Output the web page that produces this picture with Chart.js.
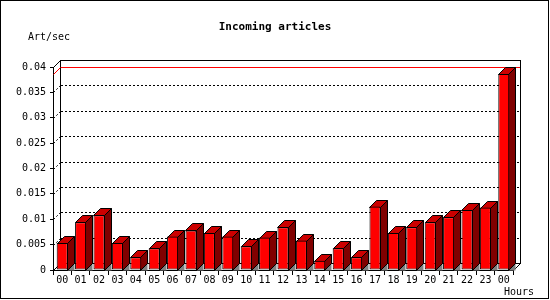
<!DOCTYPE html>
<html>
<head>
<meta charset="utf-8">
<script src="https://cdn.jsdelivr.net/npm/chart.js@4"></script>
<style>
html,body{margin:0;padding:0;background:#fff;}
canvas{display:block;}
</style>
</head>
<body>
<canvas id="c" width="550" height="300"></canvas>
<script>
const hours = ["00","01","02","03","04","05","06","07","08","09","10","11","12","13","14","15","16","17","18","19","20","21","22","23","00"];
const rates = [0.0053,0.0094,0.0108,0.0053,0.0025,0.0043,0.0066,0.0078,0.0073,0.0066,0.0047,0.0064,0.0084,0.0058,0.0018,0.0043,0.0025,0.0125,0.0073,0.0084,0.0094,0.0104,0.0118,0.0123,0.0386];
const yTickLabels = ["0","0.005","0.01","0.015","0.02","0.025","0.03","0.035","0.04"];
const titleText = "Incoming articles";
const yAxisTitle = "Art/sec";
const xAxisTitle = "Hours";

const DEPTH = 7;
const MONO = "'DejaVu Sans Mono', 'Liberation Mono', monospace";

const threeD = {
  id: 'threeD',
  beforeDraw(chart) {
    const ctx = chart.ctx;
    ctx.save();
    ctx.fillStyle = '#fff';
    ctx.fillRect(0, 0, chart.width, chart.height);
    ctx.restore();
  },
  beforeDatasetsDraw(chart) {
    const ctx = chart.ctx;
    const {left, right, top, bottom} = chart.chartArea;
    const ys = chart.scales.y;
    const D = DEPTH;
    const L = Math.round(left), R = Math.round(right), T = Math.round(top), B = Math.round(bottom);
    ctx.save();
    // back wall
    ctx.fillStyle = '#fff';
    ctx.fillRect(L + D, T - D, R - L, B - T);
    ctx.strokeStyle = '#000';
    ctx.lineWidth = 1;
    ctx.strokeRect(L + D + 0.5, T - D + 0.5, R - L, B - T);
    // grid lines on back wall
    ctx.setLineDash([2, 2]);
    ys.ticks.forEach((t) => {
      if (t.value <= ys.min || t.value >= ys.max) return;
      const y = Math.round(ys.getPixelForValue(t.value)) - D + 0.5;
      ctx.beginPath();
      ctx.moveTo(L + D + 1, y);
      ctx.lineTo(R + D, y);
      ctx.moveTo(L + 0.5, y + D);
      ctx.lineTo(L + D + 0.5, y);
      ctx.stroke();
    });
    ctx.setLineDash([]);
    // 3D box edges
    ctx.beginPath();
    ctx.moveTo(L + 0.5, T + 0.5); ctx.lineTo(L + D + 0.5, T - D + 0.5);
    ctx.moveTo(L + 0.5, B + 0.5); ctx.lineTo(L + D + 0.5, B - D + 0.5);
    ctx.moveTo(R + 0.5, B + 0.5); ctx.lineTo(R + D + 0.5, B - D + 0.5);
    ctx.stroke();
    // max line
    const vmax = Math.max(...rates);
    const ym = Math.round(ys.getPixelForValue(vmax)) - D + 0.5;
    ctx.strokeStyle = '#ff0000';
    ctx.beginPath();
    ctx.moveTo(L + D + 1, ym); ctx.lineTo(R + D, ym);
    ctx.moveTo(L + 0.5, ym + D); ctx.lineTo(L + D + 0.5, ym);
    ctx.stroke();
    // bar side & top faces
    const meta = chart.getDatasetMeta(0);
    meta.data.forEach((bar) => {
      const p = bar.getProps(['x', 'y', 'base', 'width'], true);
      const x1 = Math.round(p.x - p.width / 2) + 0.5;
      const x2 = Math.round(p.x + p.width / 2) - 0.5;
      const yt = Math.round(p.y) + 0.5;
      const yb = Math.round(p.base) + 0.5;
      // shadow
      ctx.fillStyle = '#808080';
      ctx.beginPath();
      ctx.moveTo(x2, yb); ctx.lineTo(x2 + D, yb - D); ctx.lineTo(x2 + D, yb); ctx.closePath();
      ctx.fill();
      ctx.strokeStyle = '#000';
      // side
      ctx.fillStyle = '#800000';
      ctx.beginPath();
      ctx.moveTo(x2, yb); ctx.lineTo(x2, yt); ctx.lineTo(x2 + D, yt - D); ctx.lineTo(x2 + D, yb - D); ctx.closePath();
      ctx.fill(); ctx.stroke();
      // top
      ctx.fillStyle = '#cc0000';
      ctx.beginPath();
      ctx.moveTo(x1, yt); ctx.lineTo(x2, yt); ctx.lineTo(x2 + D, yt - D); ctx.lineTo(x1 + D, yt - D); ctx.closePath();
      ctx.fill(); ctx.stroke();
    });
    ctx.restore();
  },
  afterDraw(chart) {
    const ctx = chart.ctx;
    ctx.save();
    ctx.fillStyle = '#000';
    ctx.textBaseline = 'middle';
    ctx.textAlign = 'center';
    ctx.font = 'bold 11px ' + MONO;
    ctx.fillText(titleText, 275, 27);
    ctx.textAlign = 'left';
    ctx.font = '10px ' + MONO;
    ctx.fillText(yAxisTitle, 28, 37);
    ctx.fillText(xAxisTitle, 504, 292);
    ctx.strokeStyle = '#000';
    ctx.lineWidth = 1;
    ctx.strokeRect(0.5, 0.5, 548, 298);
    ctx.restore();
  }
};

new Chart(document.getElementById('c'), {
  type: 'bar',
  data: {
    labels: hours,
    datasets: [{
      data: rates,
      backgroundColor: '#ff0000',
      borderColor: '#000',
      borderWidth: 1,
      borderSkipped: false,
      barPercentage: 0.6,
      categoryPercentage: 1.0
    }]
  },
  options: {
    responsive: false,
    animation: false,
    devicePixelRatio: 1,
    layout: { padding: { top: 67, right: 37, left: 0, bottom: 0 } },
    plugins: { legend: { display: false }, tooltip: { enabled: false }, title: { display: false } },
    scales: {
      x: {
        type: 'category',
        offset: true,
        grid: { display: true, offset: true, drawOnChartArea: false, drawTicks: true, tickLength: 5, color: '#000', tickColor: '#000' },
        border: { display: true, color: '#000', width: 1 },
        ticks: { color: '#000', font: { family: MONO, size: 10, lineHeight: 1 }, padding: 0, maxRotation: 0, autoSkip: false },
        afterFit(s) { s.height = 30; }
      },
      y: {
        min: 0,
        max: 0.04,
        grid: { display: true, drawOnChartArea: false, drawTicks: true, tickLength: 3, color: '#000', tickColor: '#000' },
        border: { display: true, color: '#000', width: 1 },
        ticks: { stepSize: 0.005, color: '#000', font: { family: MONO, size: 10 }, padding: 4,
          callback: (v, i) => yTickLabels[i] },
        afterFit(s) { s.width = 53; }
      }
    }
  },
  plugins: [threeD]
});
</script>
</body>
</html>
